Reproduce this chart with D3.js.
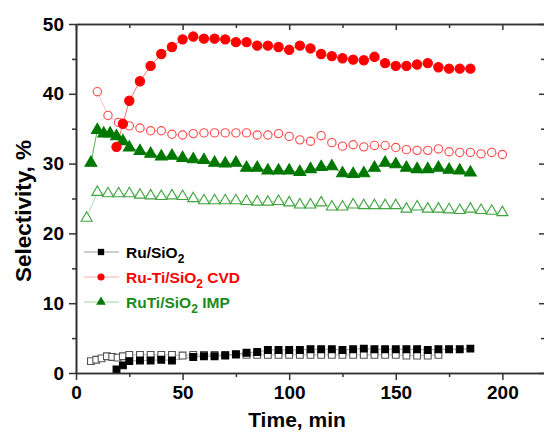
<!DOCTYPE html>
<html>
<head>
<meta charset="utf-8">
<script src="https://cdn.jsdelivr.net/npm/d3@7"></script>
<style>
  body { margin: 0; background: #fff; }
  svg { display: block; font-family: "Liberation Sans", Arial, sans-serif; font-weight: bold; }
</style>
</head>
<body>
<svg width="544" height="437"></svg>
<script>
"use strict";

// Ru/SiO2 (filled squares / open squares)
const ruFilledT = [19, 22, 25, 30, 35, 40, 45, 55, 60, 65, 70, 75, 80, 85, 90, 95, 100, 105, 110, 115, 120, 125, 130, 135, 140, 145, 150, 155, 160, 165, 170, 175, 180, 185];
const ruFilledV = [0.5, 1.1, 1.7, 1.8, 1.8, 1.9, 1.8, 2.3, 2.4, 2.4, 2.5, 2.7, 2.9, 3.0, 3.3, 3.3, 3.3, 3.3, 3.4, 3.4, 3.4, 3.3, 3.4, 3.5, 3.4, 3.4, 3.4, 3.4, 3.4, 3.3, 3.4, 3.4, 3.4, 3.5];
const ruOpenT = [7, 9.5, 12, 14.5, 17, 19.5, 22, 25, 30, 35, 40, 45, 50, 55, 60, 65, 70, 75, 80, 85, 90, 95, 100, 105, 110, 115, 120, 125, 130, 135, 140, 145, 150, 155, 160, 165, 170];
const ruOpenV = [1.7, 1.9, 2.1, 2.4, 2.3, 2.2, 2.4, 2.6, 2.6, 2.6, 2.6, 2.6, 2.5, 2.6, 2.6, 2.6, 2.6, 2.6, 2.6, 2.6, 2.6, 2.6, 2.6, 2.6, 2.6, 2.6, 2.6, 2.6, 2.6, 2.6, 2.6, 2.6, 2.6, 2.5, 2.5, 2.5, 2.6];

// Ru-Ti/SiO2 CVD (filled circles / open circles)
const cvdFilledT = [19, 22, 25, 30, 35, 40, 45, 50, 55, 60, 65, 70, 75, 80, 85, 90, 95, 100, 105, 110, 115, 120, 125, 130, 135, 140, 145, 150, 155, 160, 165, 170, 175, 180, 185];
const cvdFilledV = [32.4, 35.7, 39.0, 41.8, 44.0, 45.7, 46.7, 47.8, 48.2, 47.9, 47.9, 47.8, 47.4, 47.4, 46.9, 46.9, 46.7, 46.3, 46.9, 46.5, 45.7, 45.4, 45.1, 44.9, 44.8, 45.3, 44.4, 44.0, 44.0, 44.2, 44.4, 43.8, 43.6, 43.6, 43.6];
const cvdOpenT = [10, 15, 20, 25, 30, 35, 40, 45, 50, 55, 60, 65, 70, 75, 80, 85, 90, 95, 100, 105, 110, 115, 120, 125, 130, 135, 140, 145, 150, 155, 160, 165, 170, 175, 180, 185, 190, 195, 200];
const cvdOpenV = [40.3, 36.9, 35.9, 35.4, 35.1, 34.7, 34.7, 34.2, 34.1, 34.3, 34.4, 34.4, 34.4, 34.4, 34.4, 34.1, 34.1, 34.3, 33.9, 33.4, 33.2, 34.0, 33.0, 32.5, 32.7, 32.4, 32.6, 32.6, 32.3, 32.0, 31.9, 31.9, 32.1, 31.7, 31.6, 31.6, 31.4, 31.6, 31.3];

// RuTi/SiO2 IMP (filled triangles / open triangles)
const impFilledT = [7, 10, 13, 16, 19, 22, 25, 30, 35, 40, 45, 50, 55, 60, 65, 70, 75, 80, 85, 90, 95, 100, 105, 110, 115, 120, 125, 130, 135, 140, 145, 150, 155, 160, 165, 170, 175, 180, 185];
const impFilledV = [30.1, 34.8, 34.3, 34.3, 33.9, 33.2, 32.3, 31.8, 31.4, 31.0, 31.1, 30.8, 30.6, 30.5, 30.1, 30.0, 30.1, 29.4, 29.4, 29.0, 29.0, 29.0, 28.8, 29.2, 29.5, 29.6, 28.6, 28.5, 28.6, 29.4, 30.1, 29.9, 29.4, 29.2, 29.2, 29.4, 29.1, 29.0, 28.7];
const impOpenT = [5, 10, 15, 20, 25, 30, 35, 40, 45, 50, 55, 60, 65, 70, 75, 80, 85, 90, 95, 100, 105, 110, 115, 120, 125, 130, 135, 140, 145, 150, 155, 160, 165, 170, 175, 180, 185, 190, 195, 200];
const impOpenV = [22.2, 25.9, 25.7, 25.7, 25.7, 25.5, 25.4, 25.3, 25.4, 25.3, 25.0, 24.7, 24.7, 24.7, 24.7, 24.6, 24.5, 24.5, 24.6, 24.4, 24.1, 24.1, 24.4, 23.8, 23.8, 24.1, 24.0, 24.0, 24.0, 24.0, 23.5, 23.8, 23.5, 23.5, 23.4, 23.3, 23.5, 23.3, 23.2, 23.0];

const xTicks = [0, 50, 100, 150, 200];
const yTicks = [0, 10, 20, 30, 40, 50];
const legendNames = ["Ru/SiO", "Ru-Ti/SiO", "RuTi/SiO"];
const legendSuffix = ["", " CVD", " IMP"];

const svg = d3.select("svg");
const mLeft = 76, mRight = 545, mTop = 24, mBottom = 373;

const x = d3.scaleLinear().domain([0, 220]).range([mLeft, mRight]);
const y = d3.scaleLinear().domain([0, 50]).range([mBottom, mTop]);

const zip = (ts, vs) => ts.map((t, i) => ({ t, v: vs[i] }));

// 시리즈마다 심볼, 채움색, 테두리색, 연결선 색
const series = [
  { data: zip(ruOpenT, ruOpenV), sym: d3.symbolSquare, size: 46, fill: "#fff", stroke: "#555", line: "#aaa" },
  { data: zip(ruFilledT, ruFilledV), sym: d3.symbolSquare, size: 46, fill: "#000", stroke: "#000", line: "#888" },
  { data: zip(impOpenT, impOpenV), sym: d3.symbolTriangle, size: 52, fill: "#fff", stroke: "#3fa33f", line: "#9fd49f" },
  { data: zip(impFilledT, impFilledV), sym: d3.symbolTriangle, size: 60, fill: "#007800", stroke: "#007800", line: "#2e9c2e" },
  { data: zip(cvdOpenT, cvdOpenV), sym: d3.symbolCircle, size: 54, fill: "#fff", stroke: "#ff4a4a", line: "#ffb0b0" },
  { data: zip(cvdFilledT, cvdFilledV), sym: d3.symbolCircle, size: 68, fill: "#ff0000", stroke: "#ff0000", line: "#ff5050" }
];

const lineGen = d3.line().x(d => x(d.t)).y(d => y(d.v));

series.forEach(s => {
  svg.append("path")
    .attr("d", lineGen(s.data))
    .attr("fill", "none")
    .attr("stroke", s.line)
    .attr("stroke-width", 0.8);
});

series.forEach(s => {
  svg.append("g")
    .selectAll("path")
    .data(s.data)
    .join("path")
    .attr("transform", d => `translate(${x(d.t)},${y(d.v)})`)
    .attr("d", d3.symbol().type(s.sym).size(s.size))
    .attr("fill", s.fill)
    .attr("stroke", s.stroke)
    .attr("stroke-width", 1.1);
});

// 축: 아래/왼쪽은 눈금이 바깥, 위/오른쪽은 안쪽
const axisColor = "#333";
function styleAxis(g) {
  g.select(".domain").attr("stroke", axisColor).attr("stroke-width", 1.6);
  g.selectAll(".tick line").attr("stroke", axisColor).attr("stroke-width", 1.5);
  g.selectAll("text").attr("font-size", 19).attr("font-weight", "bold").attr("fill", "#000");
}

const xMinor = d3.range(25, 220, 50);
const yMinor = d3.range(5, 50, 10);

svg.append("g")
  .attr("transform", `translate(0,${mBottom})`)
  .call(d3.axisBottom(x).tickValues(xTicks).tickSize(7).tickSizeOuter(0).tickPadding(6))
  .call(styleAxis);
svg.append("g")
  .attr("transform", `translate(0,${mBottom})`)
  .call(d3.axisBottom(x).tickValues(xMinor).tickSize(4).tickSizeOuter(0).tickFormat(""))
  .call(styleAxis);

svg.append("g")
  .attr("transform", `translate(${mLeft},0)`)
  .call(d3.axisLeft(y).tickValues(yTicks).tickSize(7).tickSizeOuter(0).tickPadding(5))
  .call(styleAxis);
svg.append("g")
  .attr("transform", `translate(${mLeft},0)`)
  .call(d3.axisLeft(y).tickValues(yMinor).tickSize(4).tickSizeOuter(0).tickFormat(""))
  .call(styleAxis);

svg.append("g")
  .attr("transform", `translate(0,${mTop})`)
  .call(d3.axisBottom(x).tickValues(xTicks).tickSize(6).tickSizeOuter(0).tickFormat(""))
  .call(styleAxis);
svg.append("g")
  .attr("transform", `translate(0,${mTop})`)
  .call(d3.axisBottom(x).tickValues(xMinor).tickSize(4).tickSizeOuter(0).tickFormat(""))
  .call(styleAxis);

svg.append("g")
  .attr("transform", `translate(${mRight},0)`)
  .call(d3.axisLeft(y).tickValues(yTicks).tickSize(6).tickSizeOuter(0).tickFormat(""))
  .call(styleAxis);
svg.append("g")
  .attr("transform", `translate(${mRight},0)`)
  .call(d3.axisLeft(y).tickValues(yMinor).tickSize(4).tickSizeOuter(0).tickFormat(""))
  .call(styleAxis);

// 축 제목
svg.append("text")
  .attr("x", 297).attr("y", 427)
  .attr("text-anchor", "middle")
  .attr("font-size", 21)
  .text("Time, min");

svg.append("text")
  .attr("transform", "translate(31,211) rotate(-90)")
  .attr("text-anchor", "middle")
  .attr("font-size", 22.5)
  .text("Selectivity, %");

// 범례
const legendColors = ["#000", "#ff0000", "#1a8c1a"];
const legendFill = ["#000", "#ff0000", "#007800"];
const legendLine = ["#999", "#ffaaaa", "#99d699"];
const legendSym = [d3.symbolSquare, d3.symbolCircle, d3.symbolTriangle];
const legendRows = [252, 277, 302];

legendNames.forEach((name, i) => {
  const ly = legendRows[i];
  svg.append("line")
    .attr("x1", 84).attr("x2", 119)
    .attr("y1", ly).attr("y2", ly)
    .attr("stroke", legendLine[i]).attr("stroke-width", 1);
  svg.append("path")
    .attr("transform", `translate(101,${ly})`)
    .attr("d", d3.symbol().type(legendSym[i]).size(40))
    .attr("fill", legendFill[i]);
  const t = svg.append("text")
    .attr("x", 126).attr("y", ly + 5.5)
    .attr("font-size", 15.5)
    .attr("fill", legendColors[i]);
  t.append("tspan").text(name);
  t.append("tspan").attr("font-size", 12).attr("dy", 5).text("2");
  t.append("tspan").attr("dy", -5).text(legendSuffix[i]);
});
</script>
</body>
</html>
